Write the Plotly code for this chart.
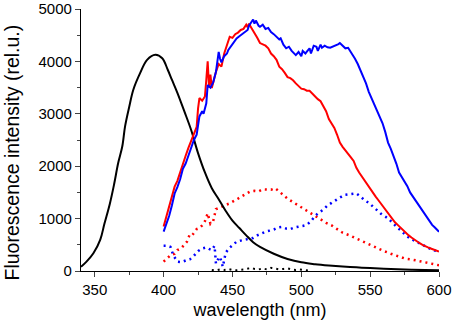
import plotly.graph_objects as go

# Black solid (excitation)
black_wl = [340, 344, 349, 354, 357, 361, 364, 367, 370, 372, 375, 378, 383, 388, 394, 399, 403, 406, 410, 415,
            420, 425, 430, 435, 440, 445, 450, 455, 460, 465, 470, 480, 490, 500, 510, 520, 530, 540, 550, 560,
            570, 580, 590, 600]
black_val = [80, 178, 338, 600, 900, 1290, 1650, 2060, 2380, 2760, 3130, 3460, 3780, 4030, 4127, 4060, 3840, 3650,
             3400, 3050, 2690, 2250, 1880, 1580, 1370, 1150, 960, 820, 680, 550, 460, 330, 230, 165, 130, 105, 85,
             70, 55, 42, 32, 24, 17, 12]

# Blue solid
blue_wl = [400, 402, 404, 406, 408, 410, 412, 414, 416, 418, 420, 422, 424, 426, 428, 429, 431, 432, 434, 436,
           438, 440, 441, 442, 444, 446, 447, 449, 451, 453, 455, 457, 459, 461, 462, 464, 465, 466, 467, 469,
           470, 472, 474, 476, 478, 480, 482, 484, 485, 487, 489, 491, 493, 495, 496, 498, 500, 501, 503, 504,
           506, 507, 509, 511, 512, 514, 515, 517, 519, 521, 523, 525, 527, 528, 530, 532, 534, 535, 537, 539,
           541, 543, 545, 547, 549, 551, 553, 555, 557, 559, 561, 563, 565, 567, 569, 571, 573, 575, 577, 579,
           581, 583, 585, 587, 589, 591, 593, 595, 597, 600]
blue_val = [750, 900, 1050, 1250, 1480, 1600, 1750, 1950, 2050, 2200, 2350, 2500, 2600, 2950, 3050, 3000, 3200,
            3550, 3500, 3600, 3800, 4180, 4050, 3980, 4100, 4150, 4220, 4300, 4380, 4440, 4480, 4520, 4560, 4600,
            4680, 4780, 4800, 4720, 4780, 4680, 4660, 4700, 4620, 4640, 4560, 4520, 4470, 4420, 4440, 4320, 4250,
            4280, 4200, 4150, 4120, 4180, 4100, 4200, 4150, 4185, 4250, 4150, 4300, 4280, 4200, 4320, 4260, 4300,
            4270, 4260, 4280, 4300, 4330, 4350, 4300, 4250, 4260, 4220, 4150, 4050, 3950, 3830, 3700, 3580, 3420,
            3300, 3200, 3050, 2950, 2820, 2650, 2450, 2330, 2200, 2050, 1880, 1800, 1700, 1620, 1500, 1420, 1350,
            1260, 1200, 1100, 1040, 960, 880, 830, 750]

# Red solid
red_wl = [400, 402, 404, 406, 408, 410, 412, 414, 416, 418, 420, 422, 424, 425, 426, 428, 430, 431, 432, 433,
          434, 435, 437, 438, 440, 442, 444, 446, 448, 450, 452, 454, 456, 458, 460, 461, 462, 464, 466, 468,
          470, 472, 474, 476, 478, 480, 482, 484, 486, 488, 490, 492, 494, 496, 498, 500, 502, 504, 506, 508,
          510, 512, 514, 516, 518, 520, 522, 524, 526, 528, 530, 533, 536, 538, 540, 542, 544, 546, 548, 550,
          552, 554, 556, 558, 560, 562, 564, 566, 568, 570, 572, 574, 576, 578, 580, 582, 584, 586, 588, 590,
          592, 594, 596, 598, 600]
red_val = [850, 1050, 1200, 1400, 1610, 1720, 1880, 2080, 2200, 2350, 2480, 2620, 2750, 3100, 3300, 3250, 3330,
           3650, 4000, 3500, 3750, 3490, 3700, 3800, 3950, 3900, 4150, 4300, 4470, 4450, 4520, 4550, 4600, 4620,
           4700, 4650, 4720, 4630, 4550, 4450, 4350, 4330, 4300, 4250, 4150, 4100, 4030, 3900, 3850, 3780, 3700,
           3680, 3640, 3580, 3520, 3480, 3470, 3440, 3440, 3380, 3320, 3280, 3240, 3150, 3050, 2900, 2820, 2730,
           2600, 2450, 2370, 2280, 2170, 2100, 1970, 1880, 1800, 1720, 1640, 1560, 1480, 1420, 1350, 1280, 1200,
           1130, 1060, 990, 930, 880, 830, 770, 720, 680, 640, 600, 560, 530, 500, 470, 450, 430, 410, 390, 370]

# Red dotted
red_dot_wl = [400, 405, 408, 410, 413, 417, 419, 421, 424, 426, 428, 430, 432, 434, 436, 438, 440, 442, 445, 448,
              451, 454, 457, 460, 463, 466, 469, 472, 475, 478, 481, 484, 487, 490, 493, 496, 500, 503, 506, 510,
              514, 518, 522, 526, 530, 535, 540, 545, 550, 555, 560, 565, 570, 575, 580, 585, 590, 595, 600]
red_dot_val = [180, 300, 330, 400, 440, 560, 700, 690, 800, 820, 870, 950, 1100, 900, 950, 1180, 1200, 1230, 1260,
               1290, 1330, 1380, 1430, 1480, 1520, 1530, 1520, 1560, 1550, 1550, 1580, 1520, 1450, 1380, 1330,
               1290, 1230, 1180, 1130, 1050, 980, 920, 870, 800, 730, 680, 620, 550, 490, 430, 380, 330, 280, 240,
               220, 190, 160, 130, 110]

# Blue dotted
blue_dot_wl = [400, 403, 405, 407, 410, 413, 416, 419, 422, 425, 428, 431, 433, 435, 437, 438, 440, 441, 443, 445,
               447, 450, 453, 456, 459, 462, 465, 468, 471, 474, 477, 480, 483, 486, 489, 492, 495, 498, 501, 504,
               507, 510, 513, 516, 519, 522, 525, 528, 531, 534, 537, 540, 543, 546, 549, 552, 555, 558, 561, 564,
               567, 570, 573, 576, 579, 582, 585, 588, 591, 594, 597, 600]
blue_dot_val = [480, 480, 460, 300, 180, 170, 200, 220, 290, 380, 430, 450, 420, 400, 480, 140, 250, 270, 80, 340,
                420, 500, 560, 580, 600, 610, 630, 680, 720, 750, 770, 790, 830, 840, 810, 800, 830, 840, 860, 880,
                950, 1050, 1120, 1170, 1250, 1300, 1350, 1400, 1450, 1460, 1470, 1480, 1420, 1350, 1300, 1230, 1150,
                1090, 1040, 980, 900, 820, 740, 680, 620, 580, 530, 490, 460, 420, 390, 370]

# Black dotted (near zero)
black_dot_wl = [435, 438, 441, 444, 447, 450, 453, 456, 459, 462, 464, 466, 469, 472, 475, 478, 481, 484, 487,
                490, 493, 496, 499, 502, 505]
black_dot_val = [20, 10, 30, 20, 40, 20, 15, 20, 30, 50, 60, 40, 30, 50, 30, 60, 40, 30, 40, 50, 30, 20, 30, 20, 10]

x_ticks = [350, 400, 450, 500, 550, 600]
y_ticks = [0, 1000, 2000, 3000, 4000, 5000]

BLUE = "#0000ff"
RED = "#ff0000"
DOT = "2px,4px"

fig = go.Figure()
fig.add_trace(go.Scatter(x=black_dot_wl, y=black_dot_val, mode="lines",
                         line=dict(color="black", width=2, dash=DOT)))
fig.add_trace(go.Scatter(x=red_dot_wl, y=red_dot_val, mode="lines",
                         line=dict(color=RED, width=2.5, dash=DOT)))
fig.add_trace(go.Scatter(x=blue_dot_wl, y=blue_dot_val, mode="lines",
                         line=dict(color=BLUE, width=2.5, dash=DOT)))
fig.add_trace(go.Scatter(x=black_wl, y=black_val, mode="lines", line=dict(color="black", width=2, shape="spline")))
fig.add_trace(go.Scatter(x=red_wl, y=red_val, mode="lines", line=dict(color=RED, width=2)))
fig.add_trace(go.Scatter(x=blue_wl, y=blue_val, mode="lines", line=dict(color=BLUE, width=2)))

font = dict(family="Liberation Sans, Arial, sans-serif", color="black")
fig.update_layout(
    width=454, height=327,
    margin=dict(l=81, r=15, t=9, b=56),
    paper_bgcolor="white", plot_bgcolor="white",
    showlegend=False,
    font=dict(**font, size=15),
    xaxis=dict(range=[340, 600], tickvals=x_ticks, ticks="outside", ticklen=5, tickwidth=1.3,
               showline=True, linecolor="black", linewidth=1.3, showgrid=False, zeroline=False,
               automargin=False, tickfont=dict(**font, size=15),
               minor=dict(ticks="outside", ticklen=3, tickwidth=1.2, dtick=25, tick0=325, showgrid=False),
               title=dict(text="wavelength (nm)", font=dict(**font, size=18), standoff=6)),
    yaxis=dict(range=[0, 5000], tickvals=y_ticks, ticks="outside", ticklen=5, tickwidth=1.3,
               showline=True, linecolor="black", linewidth=1.3, showgrid=False, zeroline=False,
               automargin=False, tickfont=dict(**font, size=15),
               minor=dict(ticks="outside", ticklen=3, tickwidth=1.2, dtick=500, showgrid=False)),
    annotations=[dict(text="Fluorescence intensity (rel.u.)", textangle=-90, showarrow=False,
                      xref="paper", yref="paper", x=-0.193, y=0.452, xanchor="center", yanchor="middle",
                      font=dict(**font, size=19.5))],
)

fig.write_html("out.html", config={"displayModeBar": False},
               post_script="document.body.style.margin='0';document.body.style.padding='0';")
